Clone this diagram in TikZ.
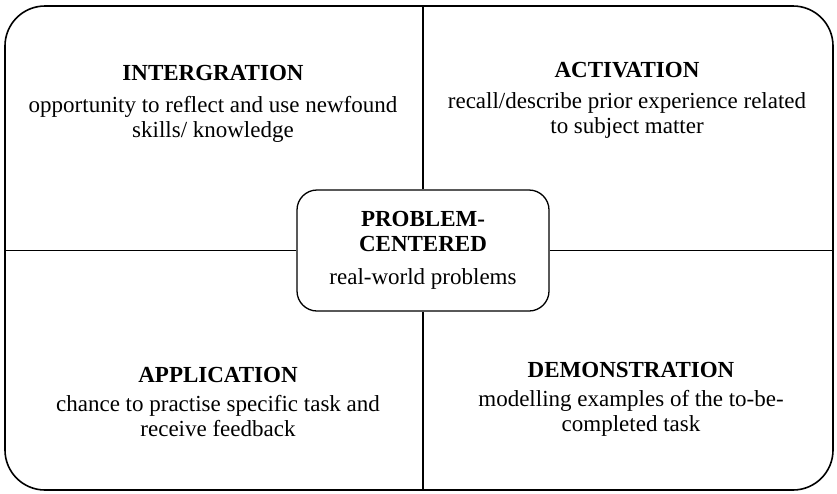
\documentclass[tikz,border=0pt]{standalone}
\usepackage{fontspec}
\setmainfont{Liberation Serif}
\usetikzlibrary{positioning}

\begin{document}
\begin{tikzpicture}[
    x=1pt, y=-1pt,
    frame/.style={draw, rounded corners=40pt, line width=1.6pt,
        minimum width=828pt, minimum height=484pt},
    hub/.style={draw, rounded corners=20pt, line width=1.3pt, fill=white, align=center,
        minimum width=252pt, minimum height=121pt, font=\fontsize{23}{25}\selectfont},
    head/.style={font=\fontsize{23}{25}\selectfont\bfseries, inner sep=0pt, anchor=base},
    body/.style={font=\fontsize{23}{25}\selectfont, align=center, inner sep=0pt},
    sep/.style={line width=1.3pt},
    node distance=16pt
]
    \useasboundingbox (0,0) rectangle (837,493);
    \node[frame] (frame) at (419,248) {};
    \node[hub] (hub) at (423,250.5) {\textbf{PROBLEM-}\\\textbf{CENTERED}\\[8pt]real-world problems};
    \draw[sep] (hub.north) -- (hub.north |- frame.north);
    \draw[sep] (hub.south) -- (hub.south |- frame.south);
    \draw[sep] (hub.west) -- (hub.west -| frame.west);
    \draw[sep] (hub.east) -- (hub.east -| frame.east);

    \node[head] (intg) at (213,80) {INTERGRATION};
    \node[body, below=16pt of intg] (intgtxt) {opportunity to reflect and use newfound\\skills/ knowledge};
    \node[head] (actv) at (627,77) {ACTIVATION};
    \node[body, below=15pt of actv] (actvtxt) {recall/describe prior experience related\\to subject matter};
    \node[head] (appl) at (218,382) {APPLICATION};
    \node[body, below=13pt of appl] (appltxt) {chance to practise specific task and\\receive feedback};
    \node[head] (demo) at (631,377) {DEMONSTRATION};
    \node[body, below=13pt of demo] (demotxt) {modelling examples of the to-be-\\completed task};
\end{tikzpicture}
\end{document}
